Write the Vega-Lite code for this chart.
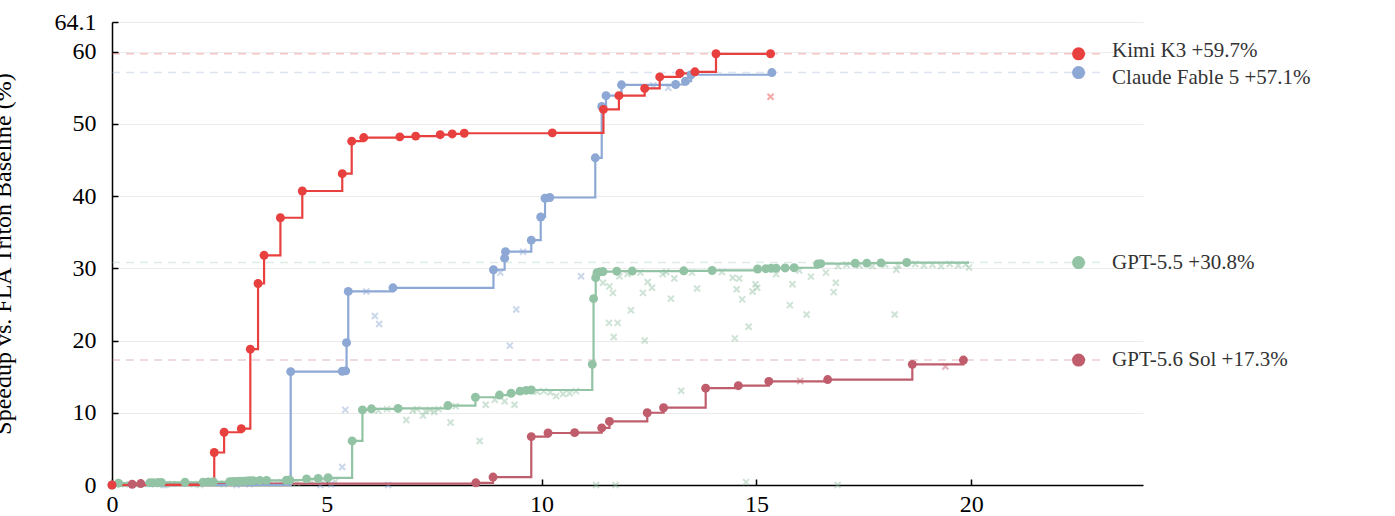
{
  "$schema": "https://vega.github.io/schema/vega-lite/v6.json",
  "autosize": {"type": "none"},
  "padding": {"left": 112, "top": 22, "right": 252, "bottom": 31},
  "width": 1031,
  "height": 463,
  "config": {
    "view": {"stroke": null},
    "font": "Liberation Serif",
    "axis": {
      "domainColor": "#000000",
      "domainWidth": 1.5,
      "tickColor": "#000000",
      "tickWidth": 1.5,
      "tickSize": -6,
      "labelColor": "#000000",
      "labelFont": "Liberation Serif",
      "labelFontSize": 24,
      "titleFont": "Liberation Serif",
      "titleFontWeight": "normal",
      "titleColor": "#000000"
    }
  },
  "datasets": {
    "runs": [
      {"model": "GPT-5.6 Sol", "kind": "best", "x": 0.47, "y": 0.1},
      {"model": "GPT-5.6 Sol", "kind": "best", "x": 0.67, "y": 0.2},
      {"model": "GPT-5.6 Sol", "kind": "best", "x": 8.47, "y": 0.3},
      {"model": "GPT-5.6 Sol", "kind": "best", "x": 8.87, "y": 1.1},
      {"model": "GPT-5.6 Sol", "kind": "best", "x": 9.76, "y": 6.7},
      {"model": "GPT-5.6 Sol", "kind": "best", "x": 10.15, "y": 7.2},
      {"model": "GPT-5.6 Sol", "kind": "best", "x": 10.77, "y": 7.25},
      {"model": "GPT-5.6 Sol", "kind": "best", "x": 11.4, "y": 7.9},
      {"model": "GPT-5.6 Sol", "kind": "best", "x": 11.58, "y": 8.8},
      {"model": "GPT-5.6 Sol", "kind": "best", "x": 12.46, "y": 10.0},
      {"model": "GPT-5.6 Sol", "kind": "best", "x": 12.84, "y": 10.7},
      {"model": "GPT-5.6 Sol", "kind": "best", "x": 13.82, "y": 13.4},
      {"model": "GPT-5.6 Sol", "kind": "best", "x": 14.58, "y": 13.75},
      {"model": "GPT-5.6 Sol", "kind": "best", "x": 15.29, "y": 14.35},
      {"model": "GPT-5.6 Sol", "kind": "best", "x": 16.66, "y": 14.6},
      {"model": "GPT-5.6 Sol", "kind": "best", "x": 18.63, "y": 16.7},
      {"model": "GPT-5.6 Sol", "kind": "best", "x": 19.82, "y": 17.3},
      {"model": "GPT-5.6 Sol", "kind": "try", "x": 16.02, "y": 14.4},
      {"model": "GPT-5.6 Sol", "kind": "try", "x": 19.4, "y": 16.4},

      {"model": "GPT-5.5", "kind": "best", "x": 0.15, "y": 0.25},
      {"model": "GPT-5.5", "kind": "best", "x": 0.88, "y": 0.3},
      {"model": "GPT-5.5", "kind": "best", "x": 0.96, "y": 0.32},
      {"model": "GPT-5.5", "kind": "best", "x": 1.07, "y": 0.34},
      {"model": "GPT-5.5", "kind": "best", "x": 1.15, "y": 0.36},
      {"model": "GPT-5.5", "kind": "best", "x": 1.7, "y": 0.38},
      {"model": "GPT-5.5", "kind": "best", "x": 2.12, "y": 0.4},
      {"model": "GPT-5.5", "kind": "best", "x": 2.24, "y": 0.42},
      {"model": "GPT-5.5", "kind": "best", "x": 2.36, "y": 0.44},
      {"model": "GPT-5.5", "kind": "best", "x": 2.74, "y": 0.46},
      {"model": "GPT-5.5", "kind": "best", "x": 2.82, "y": 0.48},
      {"model": "GPT-5.5", "kind": "best", "x": 2.9, "y": 0.5},
      {"model": "GPT-5.5", "kind": "best", "x": 2.98, "y": 0.52},
      {"model": "GPT-5.5", "kind": "best", "x": 3.05, "y": 0.54},
      {"model": "GPT-5.5", "kind": "best", "x": 3.13, "y": 0.56},
      {"model": "GPT-5.5", "kind": "best", "x": 3.21, "y": 0.58},
      {"model": "GPT-5.5", "kind": "best", "x": 3.29, "y": 0.6},
      {"model": "GPT-5.5", "kind": "best", "x": 3.44, "y": 0.62},
      {"model": "GPT-5.5", "kind": "best", "x": 3.6, "y": 0.64},
      {"model": "GPT-5.5", "kind": "best", "x": 4.06, "y": 0.66},
      {"model": "GPT-5.5", "kind": "best", "x": 4.14, "y": 0.68},
      {"model": "GPT-5.5", "kind": "best", "x": 4.53, "y": 0.85},
      {"model": "GPT-5.5", "kind": "best", "x": 4.8, "y": 0.9},
      {"model": "GPT-5.5", "kind": "best", "x": 5.03, "y": 1.0},
      {"model": "GPT-5.5", "kind": "best", "x": 5.59, "y": 6.1},
      {"model": "GPT-5.5", "kind": "best", "x": 5.83, "y": 10.4},
      {"model": "GPT-5.5", "kind": "best", "x": 6.04, "y": 10.55},
      {"model": "GPT-5.5", "kind": "best", "x": 6.66, "y": 10.6},
      {"model": "GPT-5.5", "kind": "best", "x": 7.82, "y": 11.0},
      {"model": "GPT-5.5", "kind": "best", "x": 8.46, "y": 12.15},
      {"model": "GPT-5.5", "kind": "best", "x": 9.02, "y": 12.45},
      {"model": "GPT-5.5", "kind": "best", "x": 9.29, "y": 12.7},
      {"model": "GPT-5.5", "kind": "best", "x": 9.5, "y": 13.0},
      {"model": "GPT-5.5", "kind": "best", "x": 9.64, "y": 13.1},
      {"model": "GPT-5.5", "kind": "best", "x": 9.76, "y": 13.15},
      {"model": "GPT-5.5", "kind": "best", "x": 11.18, "y": 16.7},
      {"model": "GPT-5.5", "kind": "best", "x": 11.21, "y": 25.8},
      {"model": "GPT-5.5", "kind": "best", "x": 11.26, "y": 28.7},
      {"model": "GPT-5.5", "kind": "best", "x": 11.29, "y": 29.4},
      {"model": "GPT-5.5", "kind": "best", "x": 11.35, "y": 29.5},
      {"model": "GPT-5.5", "kind": "best", "x": 11.43, "y": 29.55},
      {"model": "GPT-5.5", "kind": "best", "x": 11.75, "y": 29.6},
      {"model": "GPT-5.5", "kind": "best", "x": 12.11, "y": 29.62},
      {"model": "GPT-5.5", "kind": "best", "x": 13.31, "y": 29.65},
      {"model": "GPT-5.5", "kind": "best", "x": 13.97, "y": 29.7},
      {"model": "GPT-5.5", "kind": "best", "x": 15.03, "y": 29.9},
      {"model": "GPT-5.5", "kind": "best", "x": 15.22, "y": 29.95},
      {"model": "GPT-5.5", "kind": "best", "x": 15.34, "y": 30.0},
      {"model": "GPT-5.5", "kind": "best", "x": 15.46, "y": 30.02},
      {"model": "GPT-5.5", "kind": "best", "x": 15.67, "y": 30.05},
      {"model": "GPT-5.5", "kind": "best", "x": 15.88, "y": 30.08},
      {"model": "GPT-5.5", "kind": "best", "x": 16.43, "y": 30.6},
      {"model": "GPT-5.5", "kind": "best", "x": 16.5, "y": 30.65},
      {"model": "GPT-5.5", "kind": "best", "x": 17.3, "y": 30.7},
      {"model": "GPT-5.5", "kind": "best", "x": 17.57, "y": 30.72},
      {"model": "GPT-5.5", "kind": "best", "x": 17.9, "y": 30.75},
      {"model": "GPT-5.5", "kind": "best", "x": 18.5, "y": 30.8},
      {"model": "GPT-5.5", "kind": "end", "x": 19.95, "y": 30.8},
      {"model": "GPT-5.5", "kind": "try", "x": 0.3, "y": 0.1},
      {"model": "GPT-5.5", "kind": "try", "x": 0.55, "y": 0.05},
      {"model": "GPT-5.5", "kind": "try", "x": 1.0, "y": 0.1},
      {"model": "GPT-5.5", "kind": "try", "x": 1.25, "y": 0.0},
      {"model": "GPT-5.5", "kind": "try", "x": 1.4, "y": 0.15},
      {"model": "GPT-5.5", "kind": "try", "x": 1.9, "y": 0.1},
      {"model": "GPT-5.5", "kind": "try", "x": 2.05, "y": 0.0},
      {"model": "GPT-5.5", "kind": "try", "x": 2.5, "y": 0.2},
      {"model": "GPT-5.5", "kind": "try", "x": 2.6, "y": 0.1},
      {"model": "GPT-5.5", "kind": "try", "x": 3.0, "y": 0.3},
      {"model": "GPT-5.5", "kind": "try", "x": 3.35, "y": 0.2},
      {"model": "GPT-5.5", "kind": "try", "x": 3.7, "y": 0.3},
      {"model": "GPT-5.5", "kind": "try", "x": 3.85, "y": 0.2},
      {"model": "GPT-5.5", "kind": "try", "x": 3.95, "y": 0.4},
      {"model": "GPT-5.5", "kind": "try", "x": 4.3, "y": 0.3},
      {"model": "GPT-5.5", "kind": "try", "x": 4.65, "y": 0.5},
      {"model": "GPT-5.5", "kind": "try", "x": 4.95, "y": 0.6},
      {"model": "GPT-5.5", "kind": "try", "x": 5.2, "y": 0.5},
      {"model": "GPT-5.5", "kind": "try", "x": 6.2, "y": 10.3},
      {"model": "GPT-5.5", "kind": "try", "x": 6.4, "y": 10.5},
      {"model": "GPT-5.5", "kind": "try", "x": 6.85, "y": 9.0},
      {"model": "GPT-5.5", "kind": "try", "x": 7.0, "y": 10.3},
      {"model": "GPT-5.5", "kind": "try", "x": 7.1, "y": 10.5},
      {"model": "GPT-5.5", "kind": "try", "x": 7.24, "y": 9.6},
      {"model": "GPT-5.5", "kind": "try", "x": 7.3, "y": 10.2},
      {"model": "GPT-5.5", "kind": "try", "x": 7.4, "y": 10.4},
      {"model": "GPT-5.5", "kind": "try", "x": 7.5, "y": 10.1},
      {"model": "GPT-5.5", "kind": "try", "x": 7.6, "y": 10.5},
      {"model": "GPT-5.5", "kind": "try", "x": 7.88, "y": 8.65},
      {"model": "GPT-5.5", "kind": "try", "x": 8.0, "y": 10.9},
      {"model": "GPT-5.5", "kind": "try", "x": 8.56, "y": 6.1},
      {"model": "GPT-5.5", "kind": "try", "x": 8.7, "y": 11.1},
      {"model": "GPT-5.5", "kind": "try", "x": 8.91, "y": 11.8},
      {"model": "GPT-5.5", "kind": "try", "x": 9.14, "y": 11.6},
      {"model": "GPT-5.5", "kind": "try", "x": 9.37, "y": 11.1},
      {"model": "GPT-5.5", "kind": "try", "x": 9.9, "y": 12.9},
      {"model": "GPT-5.5", "kind": "try", "x": 10.05, "y": 13.0},
      {"model": "GPT-5.5", "kind": "try", "x": 10.2, "y": 12.8},
      {"model": "GPT-5.5", "kind": "try", "x": 10.34, "y": 12.3},
      {"model": "GPT-5.5", "kind": "try", "x": 10.5, "y": 12.6},
      {"model": "GPT-5.5", "kind": "try", "x": 10.65, "y": 12.7},
      {"model": "GPT-5.5", "kind": "try", "x": 10.8, "y": 13.0},
      {"model": "GPT-5.5", "kind": "try", "x": 11.27, "y": 0.0},
      {"model": "GPT-5.5", "kind": "try", "x": 11.72, "y": 0.0},
      {"model": "GPT-5.5", "kind": "try", "x": 14.76, "y": 0.4},
      {"model": "GPT-5.5", "kind": "try", "x": 16.89, "y": 0.0},
      {"model": "GPT-5.5", "kind": "try", "x": 13.25, "y": 13.05},
      {"model": "GPT-5.5", "kind": "try", "x": 11.57, "y": 22.45},
      {"model": "GPT-5.5", "kind": "try", "x": 11.77, "y": 22.45},
      {"model": "GPT-5.5", "kind": "try", "x": 11.68, "y": 20.5},
      {"model": "GPT-5.5", "kind": "try", "x": 12.4, "y": 20.0},
      {"model": "GPT-5.5", "kind": "try", "x": 12.08, "y": 24.2},
      {"model": "GPT-5.5", "kind": "try", "x": 13.01, "y": 25.8},
      {"model": "GPT-5.5", "kind": "try", "x": 12.36, "y": 26.6},
      {"model": "GPT-5.5", "kind": "try", "x": 12.57, "y": 27.3},
      {"model": "GPT-5.5", "kind": "try", "x": 12.47, "y": 28.1},
      {"model": "GPT-5.5", "kind": "try", "x": 11.66, "y": 26.6},
      {"model": "GPT-5.5", "kind": "try", "x": 11.58, "y": 27.5},
      {"model": "GPT-5.5", "kind": "try", "x": 11.43, "y": 28.0},
      {"model": "GPT-5.5", "kind": "try", "x": 13.09, "y": 28.6},
      {"model": "GPT-5.5", "kind": "try", "x": 12.82, "y": 29.2},
      {"model": "GPT-5.5", "kind": "try", "x": 11.81, "y": 28.9},
      {"model": "GPT-5.5", "kind": "try", "x": 12.0, "y": 29.2},
      {"model": "GPT-5.5", "kind": "try", "x": 13.62, "y": 27.2},
      {"model": "GPT-5.5", "kind": "try", "x": 14.5, "y": 20.3},
      {"model": "GPT-5.5", "kind": "try", "x": 14.82, "y": 21.9},
      {"model": "GPT-5.5", "kind": "try", "x": 14.54, "y": 27.1},
      {"model": "GPT-5.5", "kind": "try", "x": 14.67, "y": 25.7},
      {"model": "GPT-5.5", "kind": "try", "x": 14.45, "y": 28.7},
      {"model": "GPT-5.5", "kind": "try", "x": 14.6, "y": 28.6},
      {"model": "GPT-5.5", "kind": "try", "x": 14.91, "y": 26.8},
      {"model": "GPT-5.5", "kind": "try", "x": 14.98, "y": 27.8},
      {"model": "GPT-5.5", "kind": "try", "x": 15.02, "y": 27.3},
      {"model": "GPT-5.5", "kind": "try", "x": 15.78, "y": 24.9},
      {"model": "GPT-5.5", "kind": "try", "x": 15.84, "y": 27.8},
      {"model": "GPT-5.5", "kind": "try", "x": 16.17, "y": 23.6},
      {"model": "GPT-5.5", "kind": "try", "x": 16.27, "y": 28.85},
      {"model": "GPT-5.5", "kind": "try", "x": 16.8, "y": 26.7},
      {"model": "GPT-5.5", "kind": "try", "x": 16.85, "y": 28.0},
      {"model": "GPT-5.5", "kind": "try", "x": 16.62, "y": 29.4},
      {"model": "GPT-5.5", "kind": "try", "x": 18.22, "y": 23.6},
      {"model": "GPT-5.5", "kind": "try", "x": 18.26, "y": 29.8},
      {"model": "GPT-5.5", "kind": "try", "x": 15.46, "y": 29.2},
      {"model": "GPT-5.5", "kind": "try", "x": 12.3, "y": 29.4},
      {"model": "GPT-5.5", "kind": "try", "x": 12.9, "y": 29.5},
      {"model": "GPT-5.5", "kind": "try", "x": 13.5, "y": 29.4},
      {"model": "GPT-5.5", "kind": "try", "x": 14.2, "y": 29.5},
      {"model": "GPT-5.5", "kind": "try", "x": 16.0, "y": 29.7},
      {"model": "GPT-5.5", "kind": "try", "x": 16.9, "y": 30.3},
      {"model": "GPT-5.5", "kind": "try", "x": 17.1, "y": 30.5},
      {"model": "GPT-5.5", "kind": "try", "x": 17.4, "y": 30.4},
      {"model": "GPT-5.5", "kind": "try", "x": 17.7, "y": 30.3},
      {"model": "GPT-5.5", "kind": "try", "x": 18.0, "y": 30.5},
      {"model": "GPT-5.5", "kind": "try", "x": 18.3, "y": 30.4},
      {"model": "GPT-5.5", "kind": "try", "x": 18.7, "y": 30.6},
      {"model": "GPT-5.5", "kind": "try", "x": 18.9, "y": 30.4},
      {"model": "GPT-5.5", "kind": "try", "x": 19.1, "y": 30.5},
      {"model": "GPT-5.5", "kind": "try", "x": 19.3, "y": 30.3},
      {"model": "GPT-5.5", "kind": "try", "x": 19.5, "y": 30.6},
      {"model": "GPT-5.5", "kind": "try", "x": 19.7, "y": 30.4},
      {"model": "GPT-5.5", "kind": "try", "x": 19.87, "y": 30.55},
      {"model": "GPT-5.5", "kind": "try", "x": 19.95, "y": 30.1},

      {"model": "Claude Fable 5", "kind": "best", "x": 0.0, "y": 0.0},
      {"model": "Claude Fable 5", "kind": "best", "x": 4.16, "y": 15.7},
      {"model": "Claude Fable 5", "kind": "best", "x": 5.36, "y": 15.75},
      {"model": "Claude Fable 5", "kind": "best", "x": 5.44, "y": 15.8},
      {"model": "Claude Fable 5", "kind": "best", "x": 5.46, "y": 19.7},
      {"model": "Claude Fable 5", "kind": "best", "x": 5.5, "y": 26.8},
      {"model": "Claude Fable 5", "kind": "best", "x": 6.54, "y": 27.3},
      {"model": "Claude Fable 5", "kind": "best", "x": 8.88, "y": 29.8},
      {"model": "Claude Fable 5", "kind": "best", "x": 9.14, "y": 31.4},
      {"model": "Claude Fable 5", "kind": "best", "x": 9.16, "y": 32.3},
      {"model": "Claude Fable 5", "kind": "best", "x": 9.76, "y": 33.9},
      {"model": "Claude Fable 5", "kind": "best", "x": 9.98, "y": 37.1},
      {"model": "Claude Fable 5", "kind": "best", "x": 10.08, "y": 39.7},
      {"model": "Claude Fable 5", "kind": "best", "x": 10.19, "y": 39.8},
      {"model": "Claude Fable 5", "kind": "best", "x": 11.25, "y": 45.3},
      {"model": "Claude Fable 5", "kind": "best", "x": 11.4, "y": 52.4},
      {"model": "Claude Fable 5", "kind": "best", "x": 11.5, "y": 53.9},
      {"model": "Claude Fable 5", "kind": "best", "x": 11.86, "y": 55.4},
      {"model": "Claude Fable 5", "kind": "best", "x": 13.12, "y": 55.45},
      {"model": "Claude Fable 5", "kind": "best", "x": 13.35, "y": 55.9},
      {"model": "Claude Fable 5", "kind": "best", "x": 13.48, "y": 56.8},
      {"model": "Claude Fable 5", "kind": "best", "x": 15.36, "y": 57.1},
      {"model": "Claude Fable 5", "kind": "try", "x": 1.2, "y": 0.0},
      {"model": "Claude Fable 5", "kind": "try", "x": 2.9, "y": 0.0},
      {"model": "Claude Fable 5", "kind": "try", "x": 3.2, "y": 0.1},
      {"model": "Claude Fable 5", "kind": "try", "x": 4.85, "y": 0.0},
      {"model": "Claude Fable 5", "kind": "try", "x": 5.1, "y": 0.1},
      {"model": "Claude Fable 5", "kind": "try", "x": 5.36, "y": 2.5},
      {"model": "Claude Fable 5", "kind": "try", "x": 5.43, "y": 10.4},
      {"model": "Claude Fable 5", "kind": "try", "x": 5.92, "y": 26.8},
      {"model": "Claude Fable 5", "kind": "try", "x": 6.12, "y": 23.4},
      {"model": "Claude Fable 5", "kind": "try", "x": 6.22, "y": 22.3},
      {"model": "Claude Fable 5", "kind": "try", "x": 6.43, "y": 0.0},
      {"model": "Claude Fable 5", "kind": "try", "x": 9.04, "y": 29.4},
      {"model": "Claude Fable 5", "kind": "try", "x": 9.26, "y": 19.3},
      {"model": "Claude Fable 5", "kind": "try", "x": 9.41, "y": 24.3},
      {"model": "Claude Fable 5", "kind": "try", "x": 9.57, "y": 32.3},
      {"model": "Claude Fable 5", "kind": "try", "x": 10.92, "y": 28.9},
      {"model": "Claude Fable 5", "kind": "try", "x": 12.6, "y": 55.3},
      {"model": "Claude Fable 5", "kind": "try", "x": 12.95, "y": 55.0},

      {"model": "Kimi K3", "kind": "best", "x": 0.0, "y": 0.0},
      {"model": "Kimi K3", "kind": "best", "x": 2.38, "y": 4.5},
      {"model": "Kimi K3", "kind": "best", "x": 2.61, "y": 7.3},
      {"model": "Kimi K3", "kind": "best", "x": 3.01, "y": 7.8},
      {"model": "Kimi K3", "kind": "best", "x": 3.22, "y": 18.8},
      {"model": "Kimi K3", "kind": "best", "x": 3.4, "y": 27.9},
      {"model": "Kimi K3", "kind": "best", "x": 3.54, "y": 31.8},
      {"model": "Kimi K3", "kind": "best", "x": 3.92, "y": 37.0},
      {"model": "Kimi K3", "kind": "best", "x": 4.43, "y": 40.7},
      {"model": "Kimi K3", "kind": "best", "x": 5.36, "y": 43.1},
      {"model": "Kimi K3", "kind": "best", "x": 5.58, "y": 47.6},
      {"model": "Kimi K3", "kind": "best", "x": 5.86, "y": 48.1},
      {"model": "Kimi K3", "kind": "best", "x": 6.7, "y": 48.2},
      {"model": "Kimi K3", "kind": "best", "x": 7.07, "y": 48.3},
      {"model": "Kimi K3", "kind": "best", "x": 7.64, "y": 48.5},
      {"model": "Kimi K3", "kind": "best", "x": 7.92, "y": 48.6},
      {"model": "Kimi K3", "kind": "best", "x": 8.2, "y": 48.7},
      {"model": "Kimi K3", "kind": "best", "x": 10.25, "y": 48.75},
      {"model": "Kimi K3", "kind": "best", "x": 11.44, "y": 52.0},
      {"model": "Kimi K3", "kind": "best", "x": 11.8, "y": 53.9},
      {"model": "Kimi K3", "kind": "best", "x": 12.4, "y": 54.9},
      {"model": "Kimi K3", "kind": "best", "x": 12.75, "y": 56.5},
      {"model": "Kimi K3", "kind": "best", "x": 13.22, "y": 57.0},
      {"model": "Kimi K3", "kind": "best", "x": 13.57, "y": 57.2},
      {"model": "Kimi K3", "kind": "best", "x": 14.06, "y": 59.7},
      {"model": "Kimi K3", "kind": "best", "x": 15.33, "y": 59.7},
      {"model": "Kimi K3", "kind": "try", "x": 15.33, "y": 53.75}
    ],
    "finals": [
      {"model": "GPT-5.6 Sol", "y": 17.3, "ly": 17.35, "label": "GPT-5.6 Sol +17.3%"},
      {"model": "GPT-5.5", "y": 30.8, "ly": 30.7, "label": "GPT-5.5 +30.8%"},
      {"model": "Claude Fable 5", "y": 57.1, "ly": 56.3, "label": "Claude Fable 5 +57.1%"},
      {"model": "Kimi K3", "y": 59.7, "ly": 60.1, "label": "Kimi K3 +59.7%"}
    ]
  },
  "layer": [
    {
      "data": {"name": "finals"},
      "mark": {"type": "rule", "strokeDash": [8, 6], "strokeWidth": 1.5, "opacity": 0.3},
      "encoding": {
        "x": {"datum": 0, "type": "quantitative", "scale": {"domain": [0, 24], "nice": false}},
        "x2": {"datum": 23.05},
        "y": {"field": "y", "type": "quantitative", "scale": {"domain": [0, 64.1], "nice": false, "zero": false}},
        "color": {
          "field": "model", "type": "nominal", "legend": null,
          "scale": {"domain": ["Kimi K3", "Claude Fable 5", "GPT-5.5", "GPT-5.6 Sol"], "range": ["#E8403F", "#8DA8D4", "#93C3A5", "#C05D6C"]}
        }
      }
    },
    {
      "data": {"name": "runs"},
      "transform": [{"filter": "datum.kind == 'try'"}],
      "mark": {"type": "point", "shape": "M-1,-1L1,1M1,-1L-1,1", "filled": false, "size": 36, "strokeWidth": 2, "opacity": 0.45},
      "encoding": {
        "x": {"field": "x", "type": "quantitative", "axis": {"values": [0, 5, 10, 15, 20], "grid": false, "title": null, "labelPadding": 13, "labelFlush": false}},
        "y": {"field": "y", "type": "quantitative", "axis": {
          "values": [0, 10, 20, 30, 40, 50, 60, 64.1],
          "labelExpr": "'' + datum.value",
          "grid": true, "gridColor": "#ebebeb", "gridWidth": 1.2,
          "labelPadding": 22,
          "title": "Speedup vs. FLA Triton Baseline (%)",
          "titleFontSize": 24, "titleAngle": -90, "titleX": -102, "titleY": 231.5,
          "titleAlign": "center", "titleBaseline": "alphabetic"
        }},
        "color": {"field": "model", "type": "nominal"}
      }
    },
    {
      "data": {"name": "runs"},
      "transform": [{"filter": "datum.kind != 'try'"}],
      "mark": {"type": "line", "interpolate": "step-after", "strokeWidth": 2.2},
      "encoding": {
        "x": {"field": "x", "type": "quantitative"},
        "y": {"field": "y", "type": "quantitative"},
        "color": {"field": "model", "type": "nominal"}
      }
    },
    {
      "data": {"name": "runs"},
      "transform": [{"filter": "datum.kind == 'best'"}],
      "mark": {"type": "circle", "size": 80, "opacity": 1},
      "encoding": {
        "x": {"field": "x", "type": "quantitative"},
        "y": {"field": "y", "type": "quantitative"},
        "color": {"field": "model", "type": "nominal"}
      }
    },
    {
      "data": {"name": "finals"},
      "mark": {"type": "circle", "size": 170, "opacity": 1},
      "encoding": {
        "x": {"datum": 22.5, "type": "quantitative"},
        "y": {"field": "y", "type": "quantitative"},
        "color": {"field": "model", "type": "nominal"}
      }
    },
    {
      "data": {"name": "finals"},
      "mark": {"type": "text", "align": "left", "baseline": "middle", "fontSize": 21, "color": "#333333", "font": "Liberation Serif"},
      "encoding": {
        "x": {"datum": 23.28, "type": "quantitative"},
        "y": {"field": "ly", "type": "quantitative"},
        "text": {"field": "label"}
      }
    }
  ]
}
